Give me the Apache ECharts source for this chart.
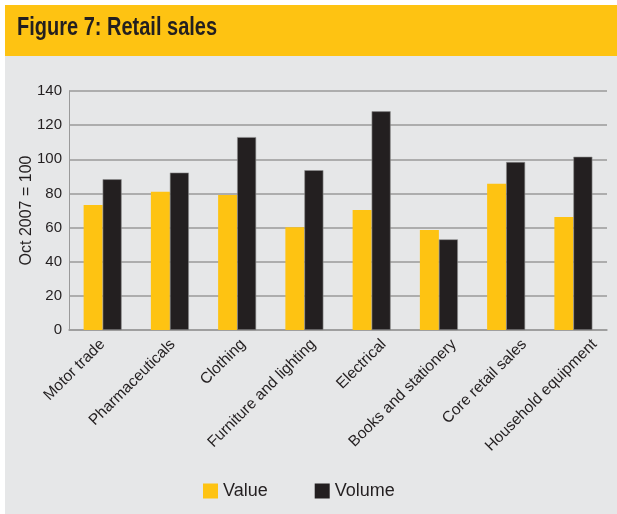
<!DOCTYPE html>
<html>
<head>
<meta charset="utf-8">
<script src="https://cdn.jsdelivr.net/npm/echarts@6/dist/echarts.min.js"></script>
<style>
  html, body { margin: 0; padding: 0; background: #ffffff; }
  #chart { width: 617px; height: 514px; }
</style>
</head>
<body>
<div id="chart"></div>
<script>
// Retail sales indices, Oct 2007 = 100
const categories = [
  'Motor trade', 'Pharmaceuticals', 'Clothing', 'Furniture and lighting',
  'Electrical', 'Books and stationery', 'Core retail sales', 'Household equipment'
];
const valueSeries = [73.2, 81.0, 79.1, 60.2, 70.3, 58.6, 85.7, 66.2];
const volumeSeries = [88.3, 92.2, 113.0, 93.6, 128.1, 53.1, 98.4, 101.5];
const yTicks = [0, 20, 40, 60, 80, 100, 120, 140];

const YELLOW = '#FEC312';
const BLACK = '#231F20';
const PANEL = '#E6E7E8';
const TEXT = '#231F20';
const FONT = '"Liberation Sans", Arial, Helvetica, sans-serif';

const chart = echarts.init(document.getElementById('chart'), null, { renderer: 'canvas' });

chart.setOption({
  backgroundColor: '#ffffff',
  animation: false,
  graphic: [
    { type: 'rect', z: -10, shape: { x: 5, y: 56, width: 612, height: 458 }, style: { fill: PANEL } },
    { type: 'rect', z: -10, shape: { x: 5, y: 5, width: 612, height: 51 }, style: { fill: YELLOW } },
    {
      // condensed bold heading
      type: 'text', x: 17, y: 16, scaleX: 0.8, scaleY: 1,
      style: {
        x: 0, y: 0, text: 'Figure 7: Retail sales', fill: TEXT,
        font: 'bold 25px ' + FONT, verticalAlign: 'top', align: 'left'
      }
    }
  ],
  grid: [
    // plot area
    { left: 69, right: 10, top: 91, bottom: 184, containLabel: false },
    // label band for the slanted category names (slightly wider pitch than the bars)
    { left: 102.5, width: 492, top: 91, bottom: 184, containLabel: false }
  ],
  legend: {
    left: 203, top: 482, padding: 0,
    itemWidth: 15, itemHeight: 15, itemGap: 47,
    icon: 'rect',
    itemStyle: { borderWidth: 0 },
    textStyle: { fontFamily: FONT, fontSize: 18, color: TEXT, padding: [2, 0, 0, 0] },
    data: ['Value', 'Volume']
  },
  xAxis: [
    {
      type: 'category',
      gridIndex: 0,
      data: categories,
      axisLine: { lineStyle: { color: '#9A9A9A', width: 1.5 } },
      axisTick: { show: false },
      axisLabel: { show: false }
    },
    {
      type: 'category',
      gridIndex: 1,
      data: categories,
      boundaryGap: false,
      axisLine: { show: false },
      axisTick: { show: false },
      splitLine: { show: false },
      axisLabel: {
        interval: 0, rotate: 45, fontFamily: FONT, fontSize: 15.5, color: TEXT, margin: 12
      }
    }
  ],
  yAxis: [
    {
      type: 'value',
      gridIndex: 0,
      min: 0, max: 140, interval: 20,
      name: 'Oct 2007 = 100',
      nameLocation: 'middle',
      nameGap: 34,
      nameMoveOverlap: false,
      nameTextStyle: { fontFamily: FONT, fontSize: 16, color: TEXT },
      axisLine: { show: true, lineStyle: { color: '#9A9A9A', width: 1 } },
      axisTick: { show: false },
      axisLabel: {
        fontFamily: FONT, fontSize: 15, color: TEXT, margin: 7,
        formatter: v => yTicks.includes(v) ? String(v) : ''
      },
      splitLine: { lineStyle: { color: '#9A9A9A', width: 1.5 } }
    },
    {
      type: 'value',
      gridIndex: 1,
      min: 0, max: 140,
      show: false
    }
  ],
  series: [
    {
      name: 'Value', type: 'bar', data: valueSeries,
      xAxisIndex: 0, yAxisIndex: 0,
      barWidth: 19, barGap: '0%',
      itemStyle: { color: YELLOW }
    },
    {
      name: 'Volume', type: 'bar', data: volumeSeries,
      xAxisIndex: 0, yAxisIndex: 0,
      barWidth: 19, barGap: '0%',
      itemStyle: { color: BLACK, borderColor: '#8f8f8f', borderWidth: 0.6 }
    }
  ]
});
</script>
</body>
</html>
